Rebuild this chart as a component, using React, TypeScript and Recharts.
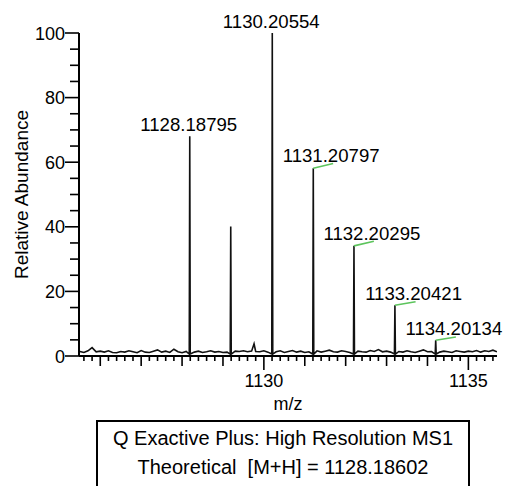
import React from "react"
import { LineChart, Line, XAxis, YAxis, ReferenceDot } from "recharts"

const FONT = "'Liberation Sans', Arial, sans-serif"

// baseline noise, [m/z, relative abundance]
const baseline: [number, number][] = [
  [1125.5, 1.4], [1125.6, 1.1], [1125.7, 1.6], [1125.8, 2.6], [1125.9, 1.3],
  [1126.0, 1.5], [1126.1, 1.2], [1126.2, 1.6], [1126.3, 1.1], [1126.4, 1.0],
  [1126.5, 1.4], [1126.6, 1.2], [1126.7, 1.6], [1126.8, 1.3], [1126.9, 1.0],
  [1127.0, 1.7], [1127.1, 1.2], [1127.2, 1.1], [1127.3, 1.5], [1127.4, 1.9],
  [1127.5, 1.2], [1127.6, 1.5], [1127.7, 1.1], [1127.8, 2.1], [1127.9, 1.3],
  [1128.0, 1.0], [1128.1, 1.4], [1128.3, 1.2], [1128.4, 1.5], [1128.5, 1.1],
  [1128.6, 1.3], [1128.7, 1.6], [1128.8, 1.2], [1128.9, 1.4], [1129.0, 1.1],
  [1129.1, 1.2], [1129.3, 1.5], [1129.4, 1.4], [1129.5, 1.6], [1129.6, 1.3],
  [1129.7, 1.5], [1129.76, 3.8], [1129.8, 1.4], [1129.9, 1.3], [1130.0, 1.6],
  [1130.1, 1.2], [1130.3, 1.3], [1130.4, 1.6], [1130.5, 1.1], [1130.6, 1.4],
  [1130.7, 1.7], [1130.8, 1.2], [1130.9, 1.5], [1131.0, 1.1], [1131.1, 1.3],
  [1131.3, 1.6], [1131.4, 1.2], [1131.5, 1.5], [1131.6, 1.8], [1131.7, 1.3],
  [1131.8, 1.2], [1131.9, 1.6], [1132.0, 1.4], [1132.1, 1.1], [1132.3, 1.5],
  [1132.4, 1.3], [1132.5, 1.2], [1132.6, 1.7], [1132.7, 1.4], [1132.8, 2.0],
  [1132.9, 1.3], [1133.0, 1.5], [1133.1, 1.2], [1133.3, 1.4], [1133.4, 1.2],
  [1133.5, 1.6], [1133.6, 1.3], [1133.7, 1.1], [1133.8, 1.5], [1133.9, 1.9],
  [1134.0, 1.3], [1134.1, 1.4], [1134.3, 1.2], [1134.4, 1.5], [1134.5, 1.3],
  [1134.6, 1.1], [1134.7, 1.6], [1134.8, 1.4], [1134.9, 1.2], [1135.0, 1.5],
  [1135.1, 1.3], [1135.2, 1.7], [1135.3, 1.2], [1135.4, 1.6], [1135.5, 1.4],
  [1135.6, 1.8], [1135.7, 1.3],
]

const peaks = [
  { mz: 1128.18795, h: 68.0, label: "1128.18795" },
  { mz: 1129.19, h: 40.1, label: "" },
  { mz: 1130.20554, h: 100, label: "1130.20554" },
  { mz: 1131.20797, h: 58.1, label: "1131.20797" },
  { mz: 1132.20295, h: 34.1, label: "1132.20295" },
  { mz: 1133.20421, h: 15.7, label: "1133.20421" },
  { mz: 1134.20134, h: 4.9, label: "1134.20134" },
]

// green theoretical isotope marks, start and end
const theoMarks = [
  { label: "1131.20797", mz1: 1131.208, v1: 58.1, mz2: 1131.694, v2: 59.6 },
  { label: "1132.20295", mz1: 1132.203, v1: 34.1, mz2: 1132.69, v2: 35.5 },
  { label: "1133.20421", mz1: 1133.204, v1: 15.7, mz2: 1133.709, v2: 16.8 },
  { label: "1134.20134", mz1: 1134.201, v1: 4.9, mz2: 1134.694, v2: 5.9 },
]

const xLabelTicks = [1130, 1135]
const yLabelTicks = [0, 20, 40, 60, 80, 100]
const yTicks = [0, 5, 10, 15, 20, 25, 30, 35, 40, 45, 50, 55, 60, 65, 70, 75, 80, 85, 90, 95, 100]
const xTicks = Array.from({ length: 51 }, (_, i) => +(1125.6 + i * 0.2).toFixed(1))

const FOOT = 0.6
const spectrum = [
  ...baseline.map(([mz, v]) => ({ mz, v })),
  ...peaks.flatMap((p) => [
    { mz: p.mz - 0.012, v: FOOT },
    { mz: p.mz, v: p.h },
    { mz: p.mz + 0.012, v: FOOT },
  ]),
].sort((a, b) => a.mz - b.mz)

const XTick = (props: any) => {
  const { x, y, payload } = props
  const v = payload.value
  const isInt = Math.abs(v - Math.round(v)) < 1e-6
  const labelled = isInt && xLabelTicks.includes(Math.round(v))
  const len = labelled ? 14 : isInt ? 10 : 5
  return (
    <g>
      <line x1={x} x2={x} y1={y} y2={y + len} stroke="#000" strokeWidth={1.6} />
      {labelled && (
        <text x={x} y={y + 31} textAnchor="middle" fontSize={18} fontFamily={FONT} fill="#000">
          {Math.round(v)}
        </text>
      )}
    </g>
  )
}

const YTick = (props: any) => {
  const { x, y, payload } = props
  const v = payload.value
  const labelled = yLabelTicks.includes(v)
  const len = labelled ? 14 : 9
  return (
    <g>
      <line x1={x - len} x2={x} y1={y} y2={y} stroke="#000" strokeWidth={1.6} />
      {labelled && (
        <text x={x - 14} y={y + 6.5} textAnchor="end" fontSize={18} fontFamily={FONT} fill="#000">
          {v}
        </text>
      )}
    </g>
  )
}

const peakLabel = (text: string, dx: number, dy: number) => (props: any) => {
  const { viewBox } = props
  const cx = viewBox.x + viewBox.width / 2
  const cy = viewBox.y + viewBox.height / 2
  return (
    <text x={cx + dx} y={cy + dy} textAnchor="middle" fontSize={18.6} fontFamily={FONT} fill="#000">
      {text}
    </text>
  )
}

const yAxisLabel = (props: any) => {
  const { viewBox } = props
  const cy = viewBox.y + viewBox.height / 2
  return (
    <text
      x={28}
      y={cy}
      transform={`rotate(-90, 28, ${cy})`}
      textAnchor="middle"
      fontSize={19}
      fontFamily={FONT}
      fill="#000"
    >
      Relative Abundance
    </text>
  )
}

export default function App() {
  return (
    <div style={{ position: "absolute", left: 0, top: 0, width: 508, height: 486, background: "#fff", overflow: "hidden" }}>
      <LineChart width={508} height={420} margin={{ top: 33, right: 11, bottom: 0, left: 0 }}>
        <XAxis
          dataKey="mz"
          type="number"
          domain={[1125.48, 1135.7]}
          allowDataOverflow
          ticks={xTicks}
          interval={0}
          tick={XTick}
          tickLine={false}
          tickSize={0}
          tickMargin={0}
          height={64}
          axisLine={{ stroke: "#000", strokeWidth: 2 }}
          label={{ value: "m/z", position: "insideBottom", offset: 10, fill: "#000", fontSize: 18, fontFamily: FONT }}
        />
        <YAxis
          type="number"
          domain={[0, 100]}
          ticks={yTicks}
          interval={0}
          tick={YTick}
          tickLine={false}
          tickSize={0}
          tickMargin={0}
          width={79}
          axisLine={{ stroke: "#000", strokeWidth: 2 }}
          label={yAxisLabel}
        />
        <Line
          data={spectrum}
          dataKey="v"
          type="linear"
          stroke="#111"
          strokeWidth={1.6}
          dot={false}
          isAnimationActive={false}
        />
        {theoMarks.map((m) => (
          <Line
            key={m.label}
            data={[
              { mz: m.mz1, v: m.v1 },
              { mz: m.mz2, v: m.v2 },
            ]}
            dataKey="v"
            type="linear"
            stroke="#5cc45c"
            strokeWidth={1.6}
            dot={false}
            isAnimationActive={false}
          />
        ))}
        {peaks
          .filter((p) => p.label && !theoMarks.some((m) => m.label === p.label))
          .map((p) => (
            <ReferenceDot
              key={p.label}
              x={p.mz}
              y={p.h}
              r={1}
              fill="none"
              stroke="none"
              ifOverflow="visible"
              label={peakLabel(p.label, -1, -5)}
            />
          ))}
        {theoMarks.map((m) => (
          <ReferenceDot
            key={"lab" + m.label}
            x={m.mz2}
            y={m.v2}
            r={1}
            fill="none"
            stroke="none"
            ifOverflow="visible"
            label={peakLabel(m.label, -2, -1.5)}
          />
        ))}
      </LineChart>
      <div
        style={{
          position: "absolute",
          left: 96,
          top: 420,
          width: 374,
          height: 80,
          border: "2px solid #000",
          paddingTop: 2,
          boxSizing: "border-box",
          textAlign: "center",
          fontFamily: FONT,
          fontSize: 20,
          lineHeight: "29px",
          color: "#000",
        }}
      >
        <div>Q Exactive Plus: High Resolution MS1</div>
        <div>Theoretical&nbsp; [M+H] = 1128.18602</div>
      </div>
    </div>
  )
}
